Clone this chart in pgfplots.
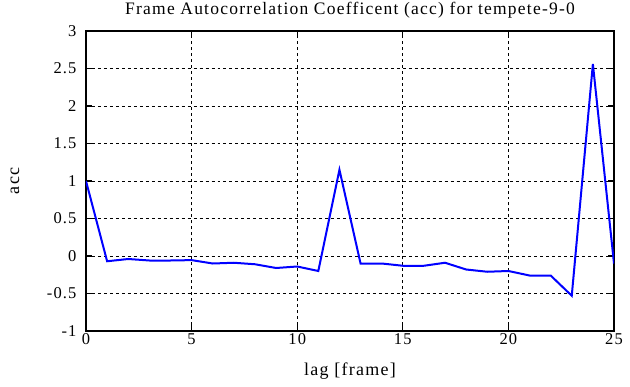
\documentclass[border=0pt]{standalone}
\usepackage{fontspec}
\setmainfont{Liberation Serif}[LetterSpace=7]
\usepackage{pgfplots}
\pgfplotsset{compat=1.18}
\begin{document}
\begin{tikzpicture}
\begin{axis}[
  scale only axis,
  width=528bp, height=300bp,
  xmin=0, xmax=25, ymin=-1, ymax=3,
  xtick={0,5,...,25},
  ytick={-1,-0.5,...,3},
  /pgf/number format/assume math mode=true,
  tick label style={font=\fontsize{16.5bp}{20bp}\selectfont},
  label style={font=\fontsize{18bp}{20bp}\selectfont},
  every axis title/.style={font=\fontsize{17.5bp}{20bp}\selectfont, at={(axis description cs:0.5,1.068)}, anchor=center},
  title={Frame Autocorrelation Coefficent (acc) for tempete-9-0},
  xlabel={lag [frame]},
  ylabel={acc},
  xlabel style={at={(axis description cs:0.5,-0.135)}, anchor=center},
  ylabel style={at={(axis description cs:-0.1345,0.5)}, anchor=center},
  grid=major,
  major grid style={black, dashed, line width=0.9bp},
  axis line style={line width=1.8bp},
  tick style={black, line width=1.2bp},
  major tick length=6bp,
  tick align=inside,
  xticklabel style={yshift=1bp},
  yticklabel style={xshift=-6bp},
]
\coordinate (sw) at (rel axis cs:0,0);
\coordinate (ne) at (rel axis cs:1,1);
\addplot[blue, line width=2bp, no marks] coordinates {
(0,1.0) (1,-0.07) (2,-0.04) (3,-0.06) (4,-0.06) (5,-0.055) (6,-0.1) (7,-0.09) (8,-0.11) (9,-0.16) (10,-0.14) (11,-0.2) (12,1.15) (13,-0.10) (14,-0.10) (15,-0.13) (16,-0.13) (17,-0.09) (18,-0.18) (19,-0.21) (20,-0.20) (21,-0.26) (22,-0.26) (23,-0.53) (24,2.56) (25,-0.1)
};
\end{axis}
\pgfresetboundingbox
\path (sw) ++(-86bp,-56bp) rectangle ([shift={(16bp,31bp)}]ne);
\end{tikzpicture}
\end{document}
